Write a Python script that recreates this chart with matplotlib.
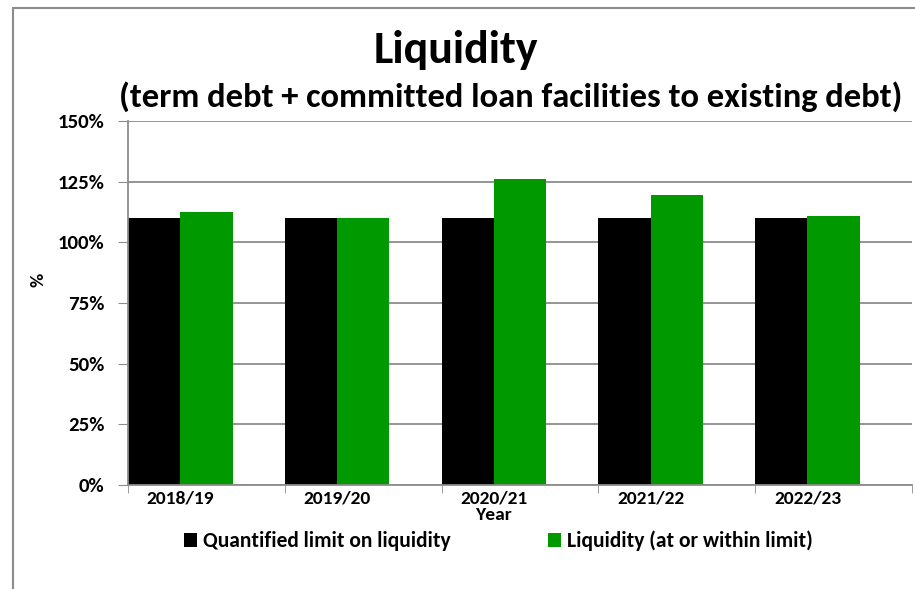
import matplotlib.pyplot as plt
from matplotlib.patches import Rectangle
from matplotlib.ticker import FixedLocator, PercentFormatter
import numpy as np

years = ["2018/19", "2019/20", "2020/21", "2021/22", "2022/23"]
limit = [110, 110, 110, 110, 110]
liquidity = [112.5, 110, 126, 119.5, 111]

plt.rcParams['font.family'] = ['Carlito', 'Open Sans', 'DejaVu Sans']
plt.rcParams['font.weight'] = 'bold'

fig = plt.figure(figsize=(9.15, 5.89), dpi=100)
# chart frame
fig.patches.append(Rectangle((13 / 915, -0.05), 1.0, 1 - 8 / 589 + 0.05, transform=fig.transFigure,
                             fill=False, edgecolor='#8c8c8c', linewidth=1.5))

ax = fig.add_axes([128 / 915, 1 - 485 / 589, (912 - 128) / 915, (485 - 121) / 589])
x = np.arange(len(years))
w = 1 / 3
ax.bar(x - w / 2, limit, width=w, color='black', label='Quantified limit on liquidity')
ax.bar(x + w / 2, liquidity, width=w, color='#009a00', label='Liquidity (at or within limit)')

ax.set_xlim(-w, len(years) - 1 + 2 * w)
ax.set_ylim(0, 150)
ax.yaxis.set_major_locator(FixedLocator([0, 25, 50, 75, 100, 125, 150]))
ax.yaxis.set_major_formatter(PercentFormatter(decimals=0))
ax.yaxis.grid(True, color='#8c8c8c', linewidth=1.3)
ax.set_axisbelow(True)

ax.set_xticks(x)
ax.set_xticklabels(years)
ax.set_xticks(np.arange(len(years) + 1) - w, minor=True)
ax.tick_params(axis='x', which='major', length=0, pad=4, labelsize=14)
ax.tick_params(axis='x', which='minor', length=6, color='#8c8c8c')
ax.tick_params(axis='y', length=7, color='#8c8c8c', pad=10, labelsize=15)

for side in ['top', 'right']:
    ax.spines[side].set_visible(False)
for side in ['left', 'bottom']:
    ax.spines[side].set_color('#8c8c8c')
    ax.spines[side].set_linewidth(1.3)

fig.text(38 / 915, 1 - 280 / 589, "%", rotation=90, ha='center', va='center', fontsize=14)
fig.text(493 / 915, 1 - 515 / 589, "Year", ha='center', va='center', fontsize=14)

fig.text(456 / 915, 1 - 50 / 589, "Liquidity", ha='center', va='center', fontsize=33, weight='bold')
fig.text(511 / 915, 1 - 97 / 589, "(term debt + committed loan facilities to existing debt)",
         ha='center', va='center', fontsize=24.8, weight='bold')

fig.legend(loc='center', bbox_to_anchor=(0.545, 1 - 541 / 589), ncol=2, frameon=False,
           fontsize=15.5, handlelength=0.6, handleheight=0.6, handletextpad=0.3, columnspacing=4.5)

fig.savefig("out.png", dpi=100)
